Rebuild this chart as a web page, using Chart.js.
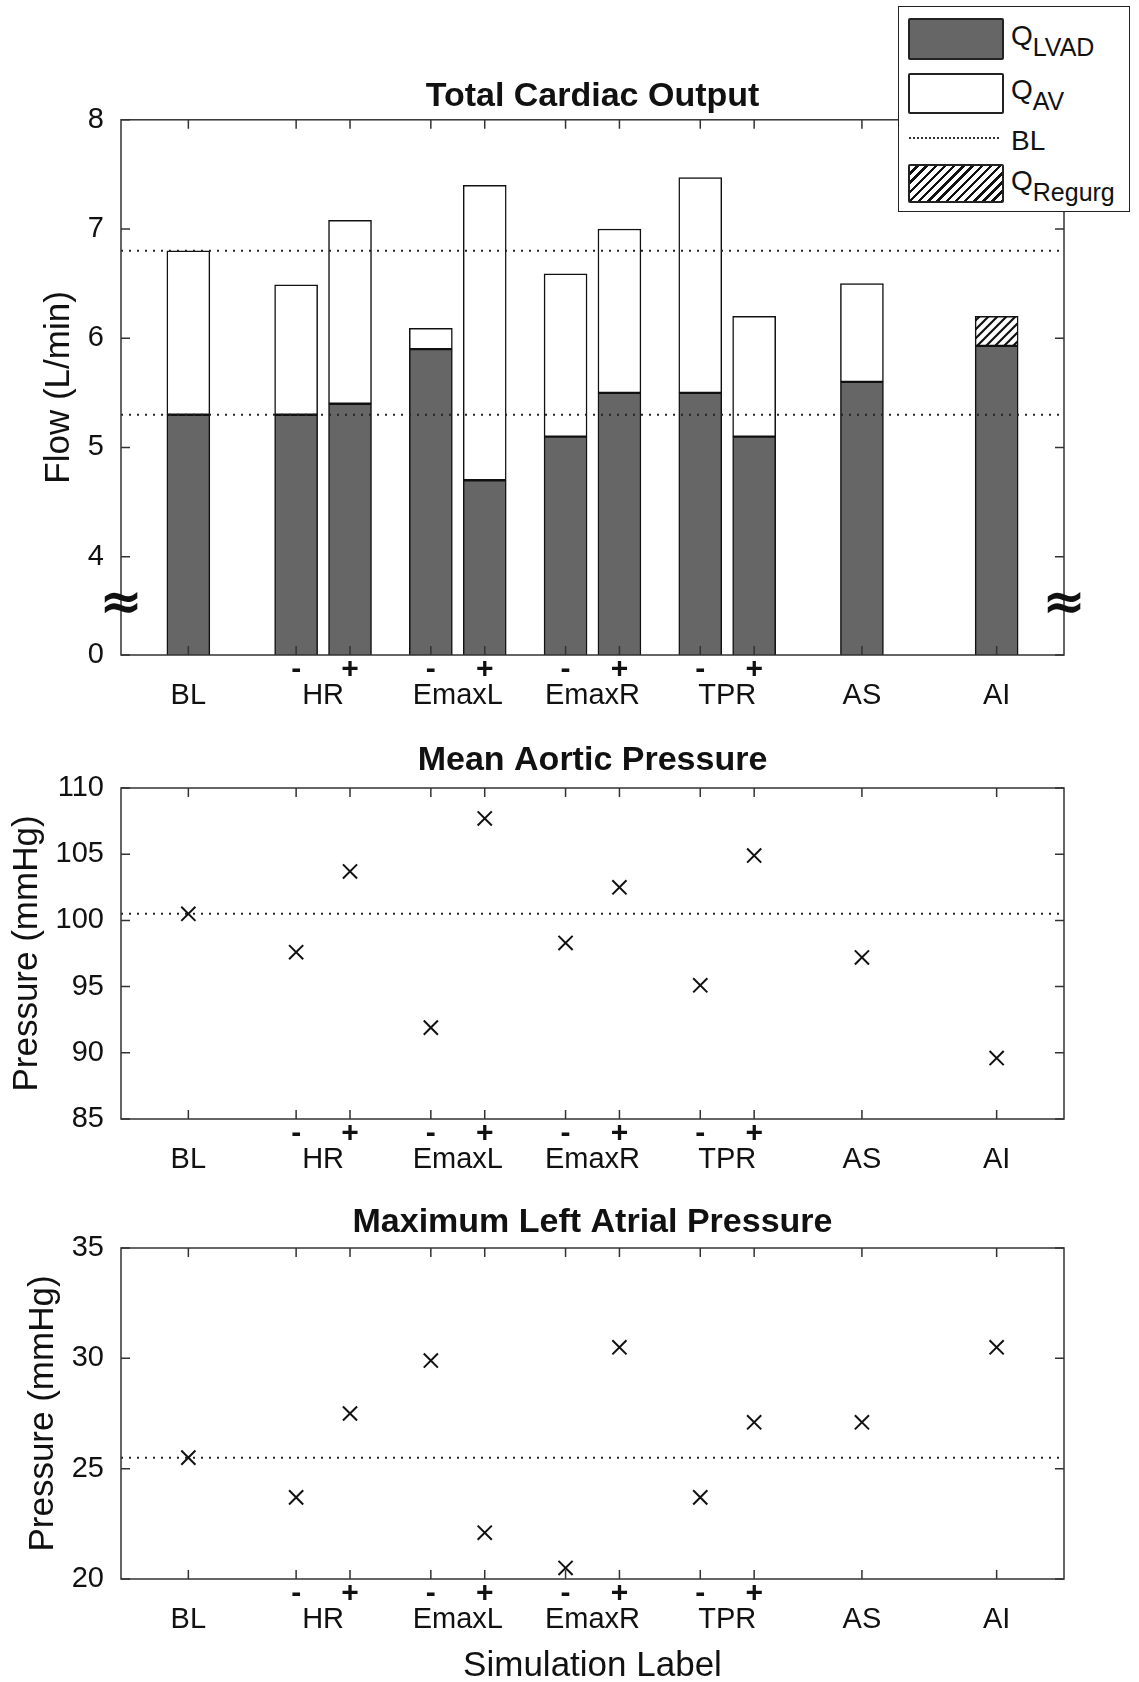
<!DOCTYPE html>
<html>
<head>
<meta charset="utf-8">
<script src="https://cdn.jsdelivr.net/npm/chart.js@4.4.1/dist/chart.umd.min.js"></script>
<style>
  body { margin: 0; background: #fff; width: 1139px; height: 1682px; position: relative; overflow: hidden;
         font-family: "Liberation Sans", Arial, sans-serif; }
  .panel { position: absolute; left: 0; width: 1139px; }
  #legend { position: absolute; left: 898px; top: 6px; width: 232px; height: 206px; box-sizing: border-box;
            border: 1.5px solid #222; background: #fff; z-index: 2; }
  .sw { position: absolute; left: 9px; width: 96px; box-sizing: border-box; border: 2px solid #222; border-radius: 2px; }
  .lbl { position: absolute; left: 112px; font-size: 28px; line-height: 1; color: #111; white-space: nowrap; }
  .lbl sub { font-size: 25px; vertical-align: -11px; line-height: 0; }
</style>
</head>
<body>
<div id="legend">
  <div class="sw" style="top:11px;height:42px;background:#666;"></div>
  <div class="lbl" style="top:15px;">Q<sub>LVAD</sub></div>
  <div class="sw" style="top:66px;height:41px;background:#fff;"></div>
  <div class="lbl" style="top:69px;">Q<sub>AV</sub></div>
  <div style="position:absolute;left:10px;top:130px;width:90px;border-top:2px dotted #333;"></div>
  <div class="lbl" style="top:120px;">BL</div>
  <div class="sw" style="top:157px;height:39px;background:repeating-linear-gradient(135deg,#fff 0 4px,#111 4px 6.5px);"></div>
  <div class="lbl" style="top:160px;">Q<sub>Regurg</sub></div>
</div>
<div class="panel" style="top:0;height:720px;"><canvas id="flowChart"></canvas></div>
<div class="panel" style="top:720px;height:460px;"><canvas id="mapChart"></canvas></div>
<div class="panel" style="top:1180px;height:502px;"><canvas id="laChart"></canvas></div>
<script>
// Simulation positions (BL, HR -/+, EmaxL -/+, EmaxR -/+, TPR -/+, AS, AI)
const groups = ['BL', 'HR', 'EmaxL', 'EmaxR', 'TPR', 'AS', 'AI'];
const groupCenters = [0, 1, 2, 3, 4, 5, 6];
const xPos = [0, 0.8, 1.2, 1.8, 2.2, 2.8, 3.2, 3.8, 4.2, 5, 6];
const signs = ['', '-', '+', '-', '+', '-', '+', '-', '+', '', ''];
const xRange = [-0.5, 6.5];

// Total cardiac output (L/min)
const qLvad = [5.3, 5.3, 5.4, 5.9, 4.7, 5.1, 5.5, 5.5, 5.1, 5.6, 5.93];
const qAv = [1.5, 1.19, 1.68, 0.19, 2.7, 1.49, 1.5, 1.97, 1.1, 0.9, null];
const qRegurg = [null, null, null, null, null, null, null, null, null, null, 0.27];
const flowBL = [6.8, 5.3];
const flowTickVals = [3.1, 4, 5, 6, 7, 8];
const flowTickLabels = ['0', '4', '5', '6', '7', '8'];

// Mean aortic pressure (mmHg)
const mapValues = [100.5, 97.6, 103.7, 91.9, 107.7, 98.3, 102.5, 95.1, 104.9, 97.2, 89.6];
const mapBL = 100.5;
const mapTicks = [85, 90, 95, 100, 105, 110];

// Maximum left atrial pressure (mmHg)
const laValues = [25.5, 23.7, 27.5, 29.9, 22.1, 20.5, 30.5, 23.7, 27.1, 27.1, 30.5];
const laBL = 25.5;
const laTicks = [20, 25, 30, 35];

const FONT = "'Liberation Sans', Arial, sans-serif";
const INK = '#111';
const SIGN_H = 26;
Chart.defaults.font.family = FONT;
Chart.defaults.color = INK;

function pts(values) {
    return values.map((v, i) => ({ x: xPos[i], y: v }));
}

function blLine(v, key) {
    return {
        type: 'line',
        label: 'BL',
        data: [{ x: xRange[0], y: v }, { x: xRange[1], y: v }],
        borderColor: '#222',
        borderWidth: 2,
        borderDash: [2, 6],
        pointRadius: 0,
        stack: key,
        order: -1
    };
}

function hatchPattern() {
    const c = document.createElement('canvas');
    c.width = 9; c.height = 9;
    const g = c.getContext('2d');
    g.fillStyle = '#fff';
    g.fillRect(0, 0, 9, 9);
    g.strokeStyle = '#111';
    g.lineWidth = 2.2;
    g.beginPath();
    g.moveTo(0, 9); g.lineTo(9, 0);
    g.moveTo(-1, 1); g.lineTo(1, -1);
    g.moveTo(8, 10); g.lineTo(10, 8);
    g.stroke();
    return g.createPattern(c, 'repeat');
}

// Box around the plot with inward ticks (MATLAB style)
const framePlugin = {
    id: 'frame',
    afterDatasetsDraw(chart) {
        const { ctx, chartArea: a, scales: { x, y } } = chart;
        const len = 9;
        ctx.save();
        ctx.strokeStyle = '#333';
        ctx.lineWidth = 1.5;
        ctx.strokeRect(a.left, a.top, a.width, a.height);
        ctx.beginPath();
        xPos.forEach(v => {
            const px = x.getPixelForValue(v);
            ctx.moveTo(px, a.bottom); ctx.lineTo(px, a.bottom - len);
            ctx.moveTo(px, a.top); ctx.lineTo(px, a.top + len);
        });
        y.ticks.forEach(t => {
            const py = y.getPixelForValue(t.value);
            ctx.moveTo(a.left, py); ctx.lineTo(a.left + len, py);
            ctx.moveTo(a.right, py); ctx.lineTo(a.right - len, py);
        });
        ctx.stroke();
        ctx.restore();
    }
};

// Axis break symbol between 0 and 4
const breakPlugin = {
    id: 'axisBreak',
    afterDraw(chart) {
        const { ctx, chartArea: a, scales: { y } } = chart;
        const py = (y.getPixelForValue(flowTickVals[0]) + y.getPixelForValue(flowTickVals[1])) / 2;
        ctx.save();
        ctx.fillStyle = INK;
        ctx.font = "bold 52px 'DejaVu Sans'";
        ctx.textAlign = 'center';
        ctx.textBaseline = 'middle';
        ctx.fillText('\u2248', a.left, py);
        ctx.fillText('\u2248', a.right, py);
        ctx.restore();
    }
};

// data axis: carries the -/+ labels right under each pair
function signScale() {
    return {
        type: 'linear',
        min: xRange[0],
        max: xRange[1],
        offset: false,
        stacked: true,
        weight: 0,
        grid: { display: false, offset: false },
        border: { display: false },
        afterBuildTicks: s => { s.ticks = xPos.map(v => ({ value: v })); },
        afterFit: s => { s.height = SIGN_H; },
        ticks: {
            autoSkip: false, maxRotation: 0, minRotation: 0, padding: -8, color: INK,
            font: { size: 30, weight: 'bold', lineHeight: 1 },
            callback: (v, i) => signs[i]
        }
    };
}

// second bottom axis with the group names
function groupScale(height, title) {
    return {
        type: 'linear',
        position: 'bottom',
        min: xRange[0],
        max: xRange[1],
        offset: false,
        weight: 1,
        grid: { display: false, offset: false },
        border: { display: false },
        afterBuildTicks: s => { s.ticks = groupCenters.map(v => ({ value: v })); },
        afterFit: s => { s.height = height; },
        ticks: {
            autoSkip: false, maxRotation: 0, minRotation: 0, padding: -7.5, color: INK,
            font: { size: 29, lineHeight: 1 },
            callback: (v, i) => groups[i]
        },
        title: title ? {
            display: true, text: title, color: INK,
            font: { size: 35, lineHeight: 0.9 }, padding: { top: 0, bottom: 0 }
        } : { display: false }
    };
}

function yScale(vals, labels, min, max, title, titlePad) {
    return {
        min: min,
        max: max,
        grid: { display: false },
        border: { display: false },
        afterBuildTicks: s => { s.ticks = vals.map(v => ({ value: v })); },
        afterFit: s => { s.width = 121; },
        ticks: {
            padding: 9, color: INK, font: { size: 29 },
            callback: (v, i) => labels[i]
        },
        title: {
            display: true, text: title, color: INK,
            font: { size: 35 }, padding: { top: titlePad, bottom: 0 }
        }
    };
}

function titleOpts(text, bottom) {
    return {
        display: true, text: text, color: INK,
        fullSize: false,
        font: { size: 34, weight: 'bold' },
        padding: { top: 0, bottom: bottom }
    };
}

function initFlowChart() {
    const ctx = document.getElementById('flowChart').getContext('2d');
    const barStyle = { borderColor: INK, borderWidth: 1.5, borderSkipped: false, barThickness: 43, clip: 0 };
    new Chart(ctx, {
        type: 'bar',
        data: {
            datasets: [
                Object.assign({ label: 'Q LVAD', data: pts(qLvad), backgroundColor: '#666666' }, barStyle),
                Object.assign({ label: 'Q AV', data: pts(qAv), backgroundColor: '#ffffff' }, barStyle),
                Object.assign({ label: 'Q Regurg', data: pts(qRegurg), backgroundColor: hatchPattern() }, barStyle),
                blLine(flowBL[0], 'bl0'),
                blLine(flowBL[1], 'bl1')
            ]
        },
        options: {
            responsive: true,
            maintainAspectRatio: false,
            animation: false,
            layout: { padding: { top: 76, left: 0, right: 75, bottom: 0 } },
            scales: {
                x: signScale(),
                xg: groupScale(65 - SIGN_H),
                y: Object.assign(yScale(flowTickVals, flowTickLabels, flowTickVals[0], 8, 'Flow (L/min)', 38), { stacked: true })
            },
            plugins: {
                legend: { display: false },
                tooltip: { enabled: false },
                title: titleOpts('Total Cardiac Output', 3)
            }
        },
        plugins: [framePlugin, breakPlugin]
    });
}

function initPressureChart(id, title, values, bl, ticks, yTitle, titlePad, topPad, titleBottom, xHeight, xTitle) {
    const ctx = document.getElementById(id).getContext('2d');
    new Chart(ctx, {
        type: 'scatter',
        data: {
            datasets: [
                {
                    label: title,
                    data: pts(values),
                    pointStyle: 'crossRot',
                    pointRadius: 10,
                    borderColor: INK,
                    borderWidth: 2,
                    backgroundColor: 'transparent'
                },
                blLine(bl, 'bl')
            ]
        },
        options: {
            responsive: true,
            maintainAspectRatio: false,
            animation: false,
            layout: { padding: { top: topPad, left: 0, right: 75, bottom: 0 } },
            scales: {
                x: signScale(),
                xg: groupScale(xHeight - SIGN_H, xTitle),
                y: yScale(ticks, ticks.map(String), ticks[0], ticks[ticks.length - 1], yTitle, titlePad)
            },
            plugins: {
                legend: { display: false },
                tooltip: { enabled: false },
                title: titleOpts(title, titleBottom)
            }
        },
        plugins: [framePlugin]
    });
}

document.addEventListener('DOMContentLoaded', function () {
    initFlowChart();
    initPressureChart('mapChart', 'Mean Aortic Pressure', mapValues, mapBL, mapTicks,
        'Pressure (mmHg)', 6, 20.6, 6.6, 61);
    initPressureChart('laChart', 'Maximum Left Atrial Pressure', laValues, laBL, laTicks,
        'Pressure (mmHg)', 22, 22, 5.2, 103, 'Simulation Label');
});
</script>
</body>
</html>
